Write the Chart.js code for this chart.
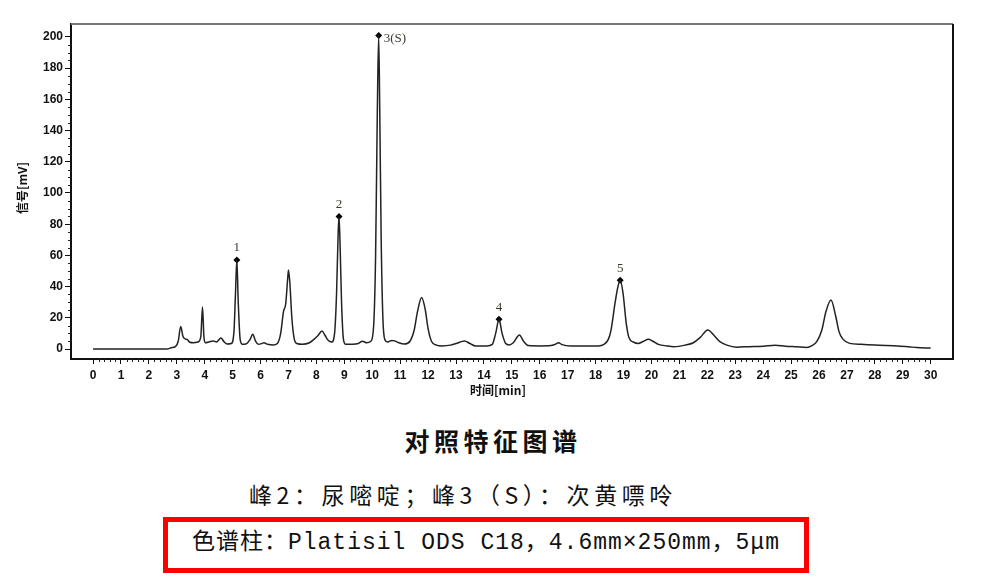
<!DOCTYPE html>
<html>
<head>
<meta charset="utf-8">
<script src="https://cdn.jsdelivr.net/npm/chart.js@4.4.1/dist/chart.umd.min.js"></script>
<style>
  html, body { margin: 0; padding: 0; background: #fff; }
  #wrap { position: relative; width: 986px; height: 583px; overflow: hidden; }
  #chart { position: absolute; left: 0; top: 0; }
  .cap { position: absolute; left: 0; width: 986px; text-align: center; white-space: nowrap; color: #111; }
  #title { top: 422px; height: 30px; line-height: 30px; font: bold 25px "Noto Sans CJK SC", sans-serif; letter-spacing: 4.5px; left: 0px; }
  #peaks { top: 477px; height: 30px; line-height: 30px; font: 23px "Noto Sans CJK SC", sans-serif; letter-spacing: 4.6px; left: -30px; }
  #column { position: absolute; left: 163px; top: 517px; width: 646px; height: 56px; box-sizing: border-box;
            border: 5px solid #f00; text-align: center; line-height: 46px; white-space: nowrap;
            font: 23px "Liberation Mono", "Noto Sans CJK SC", monospace; letter-spacing: 1px; color: #111; }
</style>
</head>
<body>
<div id="wrap">
  <canvas id="chart" width="986" height="410"></canvas>
  <div class="cap" id="title">对照特征图谱</div>
  <div class="cap" id="peaks">峰2：尿嘧啶；峰3（S）：次黄嘌呤</div>
  <div id="column">色谱柱：Platisil ODS C18，4.6mm×250mm，5μm</div>
</div>
<script>
// retention time [min] and signal [mV]
const times = [
    0, 2.65, 2.8, 2.95, 3.05, 3.14, 3.22, 3.3, 3.38, 3.45, 3.6, 3.75, 3.86, 3.92, 3.97, 4.02,
    4.15, 4.3, 4.42, 4.58, 4.7, 4.8, 4.95, 5.05, 5.1, 5.15, 5.2, 5.27, 5.35, 5.5, 5.62, 5.72,
    5.82, 5.92, 6.05, 6.12, 6.25, 6.45, 6.6, 6.72, 6.82, 6.9, 6.97, 7.0, 7.05, 7.12, 7.2, 7.3,
    7.5, 7.75, 7.9, 8.05, 8.2, 8.3, 8.4, 8.55, 8.65, 8.72, 8.78, 8.81, 8.85, 8.9, 8.97, 9.05,
    9.3, 9.5, 9.65, 9.8, 9.95, 10.05, 10.12, 10.18, 10.23, 10.27, 10.32, 10.38, 10.45, 10.55,
    10.7, 10.8, 10.95, 11.15, 11.35, 11.5, 11.62, 11.77, 11.9, 12.0, 12.12, 12.3, 12.5, 12.8,
    13.0, 13.3, 13.5, 13.7, 14.1, 14.3, 14.42, 14.54, 14.65, 14.78, 14.9, 15.05, 15.27, 15.42,
    15.6, 16.0, 16.4, 16.55, 16.67, 16.8, 17.1, 17.6, 18.1, 18.3, 18.45, 18.55, 18.7, 18.8,
    18.88, 18.98, 19.1, 19.2, 19.35, 19.53, 19.7, 19.89, 20.05, 20.25, 20.55, 20.8, 21.2, 21.5,
    21.75, 22.02, 22.25, 22.45, 22.7, 23.05, 23.5, 24.0, 24.43, 24.8, 25.2, 25.56, 25.75, 25.92,
    26.1, 26.25, 26.43, 26.6, 26.72, 26.85, 27.1, 27.5, 28.0, 28.4, 28.8, 29.2, 29.5, 30.0
];
const signal = [
    0, 0, 0.8, 1.5, 5, 14.5, 8, 6.5, 6, 4.5, 4, 4.5, 8, 27, 8, 4,
    4.5, 5.2, 4.5, 7, 4.5, 3.2, 3.5, 12, 35, 57, 30, 6, 3, 3.5, 6, 9.5,
    5, 3, 3.5, 4, 3, 2.5, 3.5, 10, 24, 29, 45, 50.6, 42, 20, 7, 3.5,
    3, 4, 6, 8.5, 11.5, 9, 6, 4.5, 10, 35, 75, 85, 65, 30, 6, 3,
    3, 3.5, 5, 4, 5, 15, 60, 150, 201, 150, 70, 20, 6, 4.5,
    5.5, 5.2, 4, 3.2, 5, 12, 24, 33, 25, 13, 5, 2.5, 2, 2.5,
    3.5, 5.1, 3.5, 2, 2, 3, 10, 19, 10, 3.5, 2.6, 4, 9, 5,
    2.2, 2, 2.2, 3, 4, 2.8, 2, 2, 2, 3, 6, 12, 30, 40,
    44, 36, 16, 7, 4.5, 3.6, 4.8, 6.2, 5, 3, 2, 1.5, 2.5, 4,
    7.5, 12.2, 8.5, 4.7, 2.5, 1.2, 1.5, 1.8, 2.4, 1.8, 1.4, 1.0, 2.2, 4.7,
    12, 24, 31.4, 21, 11, 6.5, 3.6, 3, 2.6, 2.3, 1.9, 1.5, 0.9, 0.6
];

// marked peaks
const peakTimes = [5.15, 8.81, 10.23, 14.54, 18.88];
const peakValues = [57, 85, 201, 19, 44];
const peakLabels = ['1', '2', '3(S)', '4', '5'];

// axis ticks
const xTicks = [0, 1, 2, 3, 4, 5, 6, 7, 8, 9, 10, 11, 12, 13, 14, 15, 16, 17, 18, 19, 20,
                21, 22, 23, 24, 25, 26, 27, 28, 29, 30];
const yTicks = [0, 20, 40, 60, 80, 100, 120, 140, 160, 180, 200];

const tickFont = { family: '"Liberation Sans", Arial, sans-serif', size: 12, weight: 'bold' };

// frame, minor ticks, axis titles and peak labels
const decorPlugin = {
    id: 'decor',
    afterDraw(chart) {
        const ctx = chart.ctx;
        const area = chart.chartArea;
        const xs = chart.scales.x;
        const ys = chart.scales.y;
        ctx.save();

        // top and right of the box
        ctx.strokeStyle = '#777';
        ctx.lineWidth = 2;
        ctx.beginPath();
        ctx.moveTo(area.left, area.top);
        ctx.lineTo(area.right, area.top);
        ctx.stroke();
        ctx.strokeStyle = '#111';
        ctx.beginPath();
        ctx.moveTo(area.right, area.top);
        ctx.lineTo(area.right, area.bottom);
        ctx.stroke();

        // minor ticks
        ctx.strokeStyle = '#222';
        ctx.lineWidth = 1;
        ctx.beginPath();
        for (let k = 1; k < 150; k++) {
            if (k % 5 === 0) continue;
            const px = Math.round(xs.getPixelForValue(k / 5)) + 0.5;
            ctx.moveTo(px, area.bottom);
            ctx.lineTo(px, area.bottom + 3);
        }
        for (let k = 1; k < 41; k++) {
            if (k % 4 === 0) continue;
            const py = Math.round(ys.getPixelForValue(k * 5)) + 0.5;
            ctx.moveTo(area.left, py);
            ctx.lineTo(area.left - 3, py);
        }
        ctx.stroke();

        // axis titles
        ctx.fillStyle = '#111';
        ctx.font = 'bold 12px "Noto Sans CJK SC", sans-serif';
        ctx.textAlign = 'center';
        ctx.textBaseline = 'middle';
        ctx.fillText('时间[min]', 498, 390);
        ctx.translate(22, 188);
        ctx.rotate(-Math.PI / 2);
        ctx.fillText('信号[mV]', 0, 0);
        ctx.setTransform(1, 0, 0, 1, 0, 0);

        // peak labels
        const meta = chart.getDatasetMeta(1);
        ctx.fillStyle = '#3a3a30';
        ctx.font = '13px "Liberation Serif", serif';
        meta.data.forEach((pt, i) => {
            const label = peakLabels[i];
            if (label === '3(S)') {
                ctx.textAlign = 'left';
                ctx.fillText(label, pt.x + 5, pt.y + 3);
            } else {
                ctx.textAlign = 'center';
                ctx.fillText(label, pt.x, pt.y - 12);
            }
        });
        ctx.restore();
    }
};

const chart = new Chart(document.getElementById('chart'), {
    type: 'line',
    data: {
        datasets: [
            {
                data: times.map((t, i) => ({ x: t, y: signal[i] })),
                borderColor: '#222',
                borderWidth: 1.5,
                pointRadius: 0,
                cubicInterpolationMode: 'monotone',
                fill: false
            },
            {
                data: peakTimes.map((t, i) => ({ x: t, y: peakValues[i] })),
                showLine: false,
                pointStyle: 'rectRot',
                pointRadius: 3.5,
                backgroundColor: '#000',
                borderColor: '#000',
                borderWidth: 0
            }
        ]
    },
    options: {
        responsive: false,
        animation: false,
        devicePixelRatio: 1,
        layout: { padding: { top: 24, right: 33, left: 0, bottom: 0 } },
        plugins: {
            legend: { display: false },
            tooltip: { enabled: false }
        },
        scales: {
            x: {
                type: 'linear',
                min: -0.79,
                max: 30.8,
                afterBuildTicks: scale => { scale.ticks = xTicks.map(v => ({ value: v })); },
                afterFit: scale => { scale.height = 51; },
                ticks: { font: tickFont, color: '#111', padding: 4, maxRotation: 0, autoSkip: false },
                grid: { drawOnChartArea: false, tickLength: 5, color: '#111' },
                border: { color: '#111', width: 2 }
            },
            y: {
                type: 'linear',
                min: -6.4,
                max: 208.3,
                afterBuildTicks: scale => { scale.ticks = yTicks.map(v => ({ value: v })); },
                afterFit: scale => { scale.width = 71; },
                ticks: { font: tickFont, color: '#111', padding: 2 },
                grid: { drawOnChartArea: false, tickLength: 6, color: '#111' },
                border: { color: '#111', width: 2 }
            }
        }
    },
    plugins: [decorPlugin]
});
</script>
</body>
</html>
